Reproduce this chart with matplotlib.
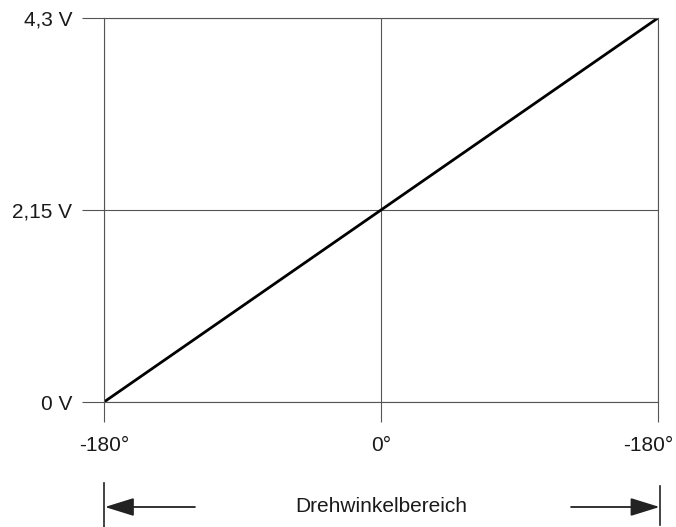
import matplotlib.pyplot as plt
from matplotlib.transforms import ScaledTranslation

# Kennlinie: Ausgangsspannung über Drehwinkel
angle_deg = [-180, 180]
voltage = [0.0, 4.3]

x_ticks = [-180, 0, 180]
x_tick_labels = ["-180°", "0°", "-180°"]
y_ticks = [0.0, 2.15, 4.3]
y_tick_labels = ["0 V", "2,15 V", "4,3 V"]
range_label = "Drehwinkelbereich"

plt.rcParams["font.family"] = ["Liberation Sans", "DejaVu Sans"]
grid_color = "#555555"
text_color = "#1a1a1a"

fig = plt.figure(figsize=(6.76, 5.27), dpi=100)
ax = fig.add_axes([104 / 676, 1 - 402 / 527, 554 / 676, 384 / 527])

ax.plot(angle_deg, voltage, color="black", linewidth=2.0, solid_capstyle="butt")

ax.set_xlim(-180, 180)
ax.set_ylim(0, 4.3)
ax.set_xticks(x_ticks)
ax.set_xticklabels(x_tick_labels)
ax.set_yticks(y_ticks)
ax.set_yticklabels(y_tick_labels)
ax.tick_params(axis="x", length=14.4, width=0.8, color=grid_color, pad=10,
               labelsize=15, labelcolor=text_color)
ax.tick_params(axis="y", length=15.8, width=0.8, color=grid_color, pad=7,
               labelsize=15, labelcolor=text_color)
ax.grid(True, color=grid_color, linewidth=0.8)
for s in ax.spines.values():
    s.set_color(grid_color)
    s.set_linewidth(0.8)

# letzte Beschriftung etwas nach links, damit sie ins Bild passt
last = ax.get_xticklabels()[-1]
last.set_transform(last.get_transform() + ScaledTranslation(-10 / 100, 0, fig.dpi_scale_trans))

# Bereichspfeile unter der Achse
tr = ax.get_xaxis_transform()
y_arrow = (402 - 507) / 384
for xb, y0, y1 in [(-180, (402 - 483) / 384, (402 - 527) / 384),
                   (181.5, (402 - 486) / 384, (402 - 525) / 384)]:
    ax.plot([xb, xb], [y0, y1], color="#222222", linewidth=1.2,
            transform=tr, clip_on=False)

arrow_kw = dict(arrowstyle="-|>,head_length=0.9,head_width=0.28", color="#222222",
                lw=1.3, shrinkA=0, shrinkB=0, mutation_scale=20)
ax.annotate("", xy=(-179.4, y_arrow), xytext=(-120.9, y_arrow),
            xycoords=tr, textcoords=tr, arrowprops=arrow_kw, annotation_clip=False)
ax.annotate("", xy=(181.0, y_arrow), xytext=(123.5, y_arrow),
            xycoords=tr, textcoords=tr, arrowprops=arrow_kw, annotation_clip=False)
ax.text(0, y_arrow, range_label, transform=tr, ha="center", va="center",
        fontsize=15, color=text_color)

plt.savefig("out.png", dpi=100)
